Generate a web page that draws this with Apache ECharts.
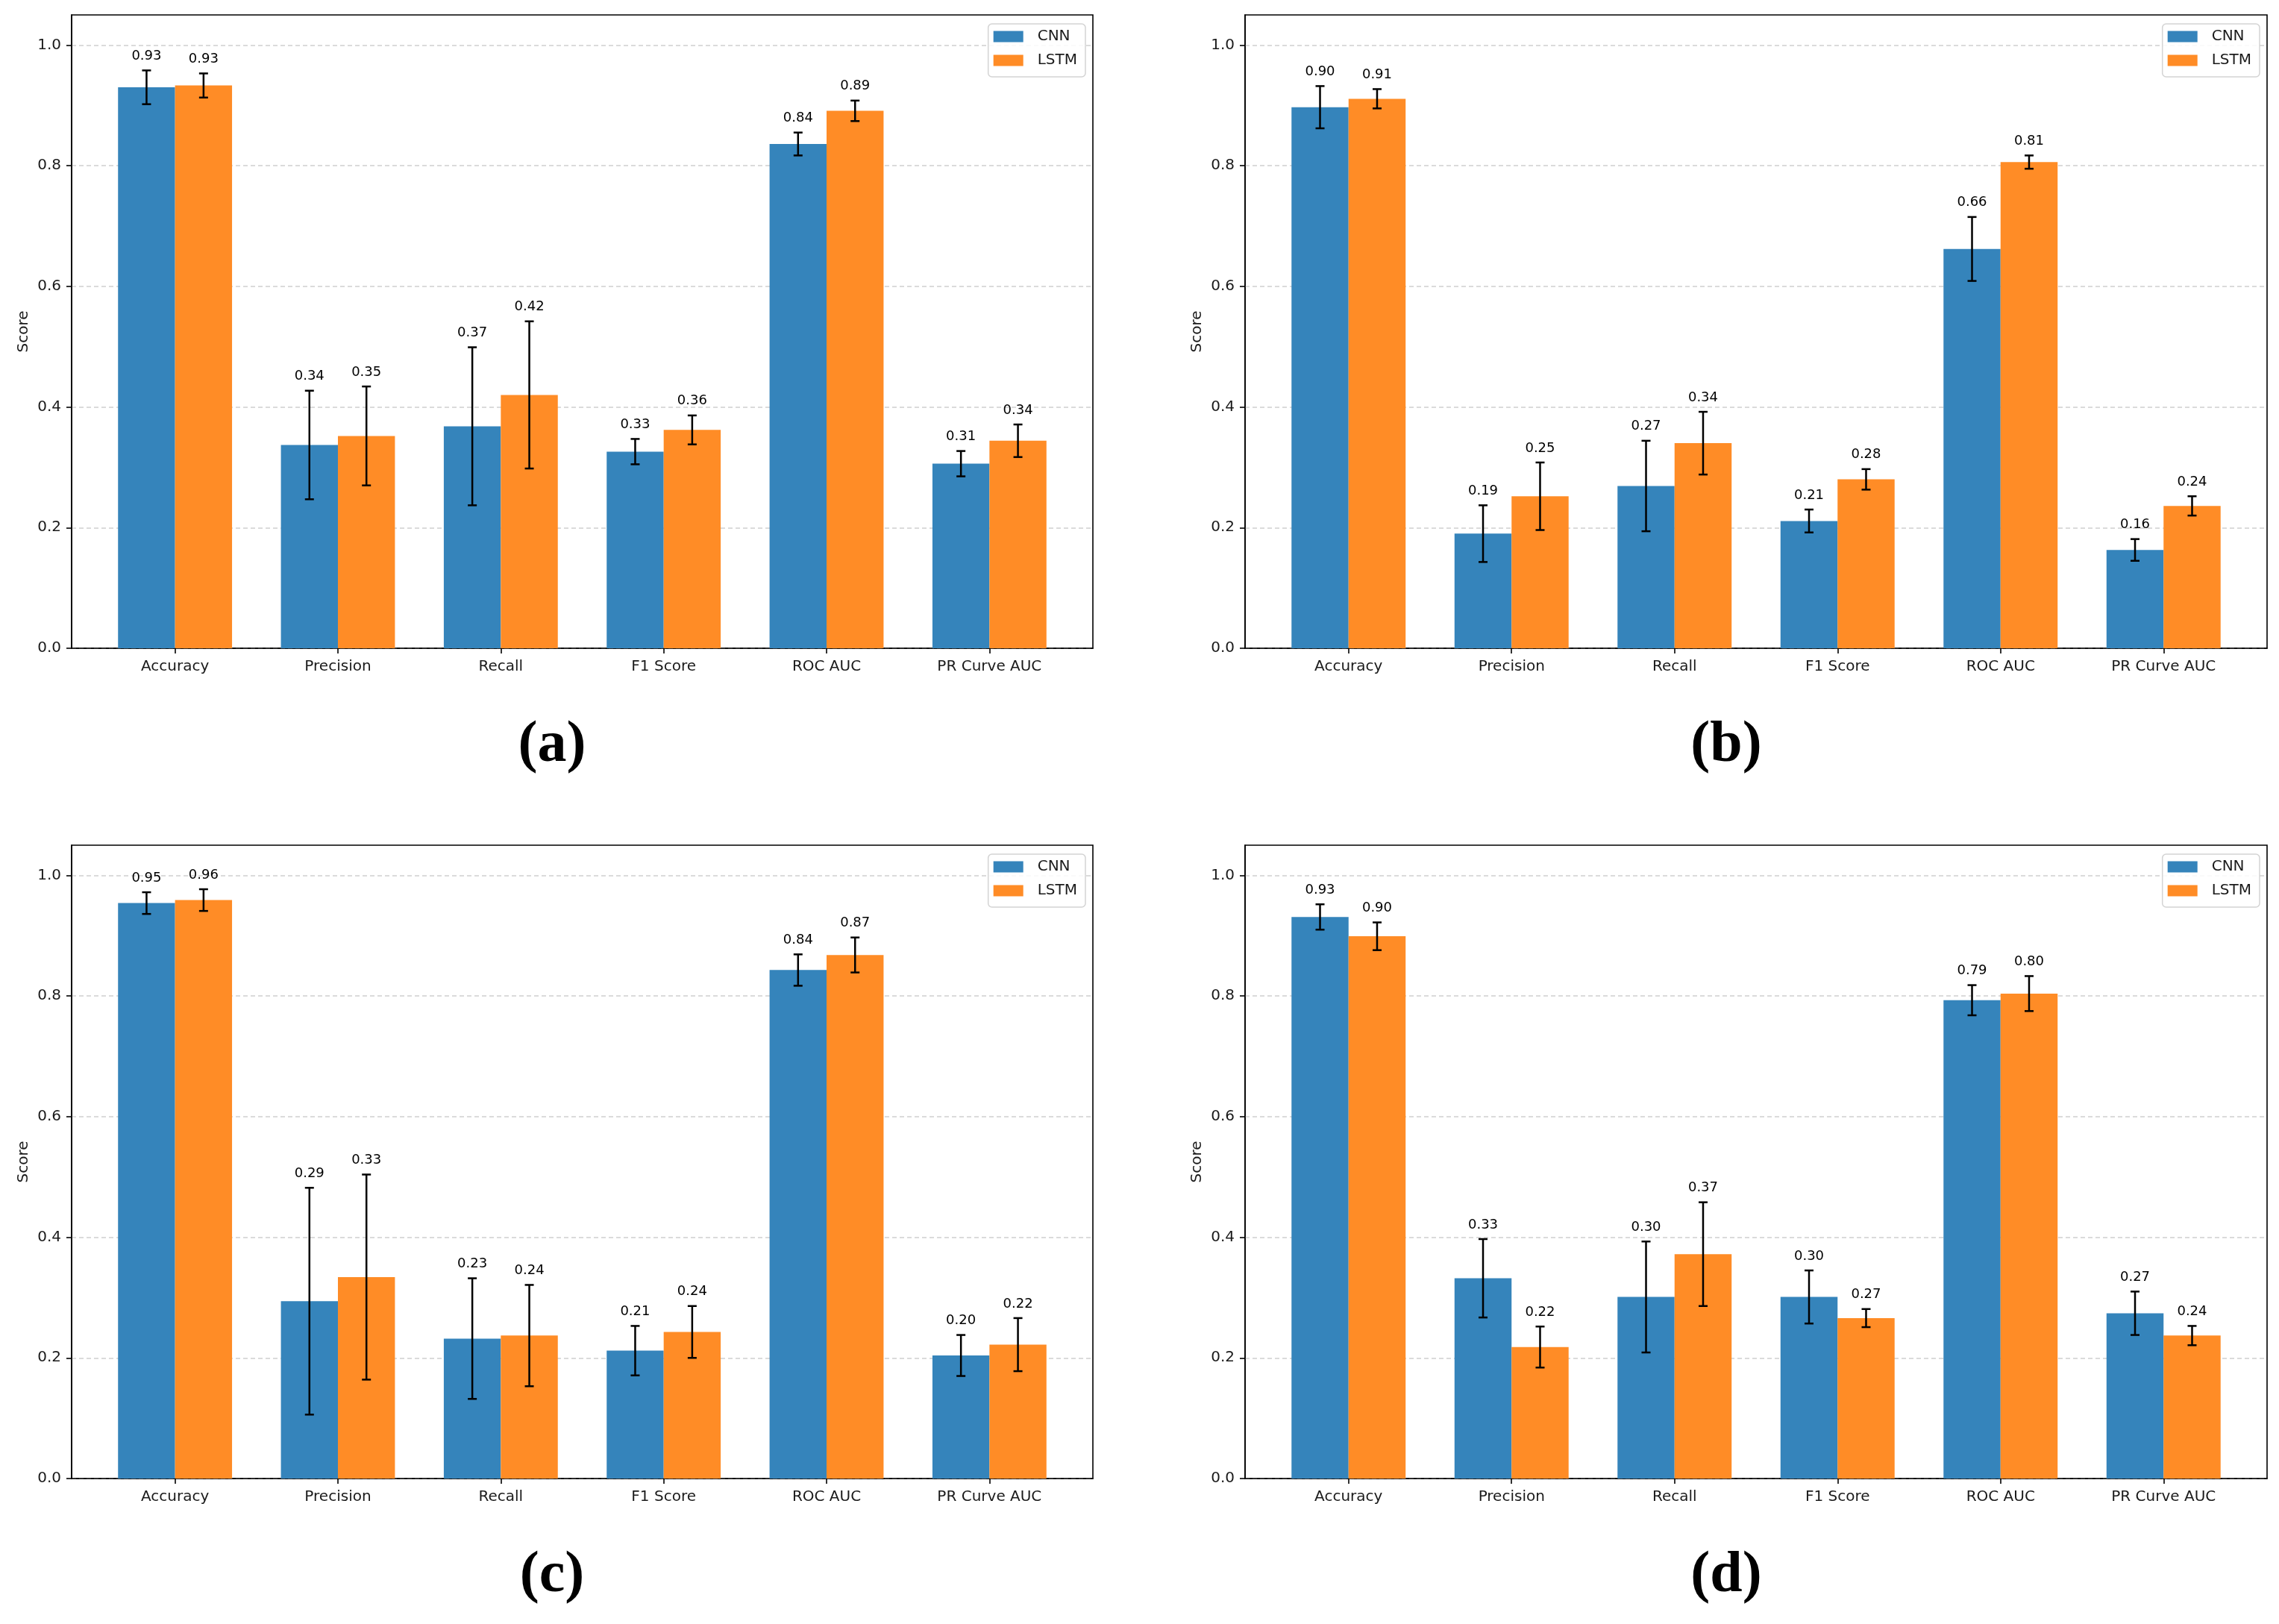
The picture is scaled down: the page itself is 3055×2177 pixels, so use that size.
<!DOCTYPE html>
<html>
<head>
<meta charset="utf-8">
<script src="https://cdn.jsdelivr.net/npm/echarts@6/dist/echarts.min.js"></script>
<style>
html,body{margin:0;padding:0;background:#fff;}
#chart{width:3055px;height:2177px;}
</style>
</head>
<body>
<div id="chart"></div>
<script>
const categories = ['Accuracy', 'Precision', 'Recall', 'F1 Score', 'ROC AUC', 'PR Curve AUC'];
const seriesNames = ['CNN', 'LSTM'];
const yTicks = [0, 0.2, 0.4, 0.6, 0.8, 1.0];
const captions = ['(a)', '(b)', '(c)', '(d)'];

// (a)
const cnnA = [0.930, 0.337, 0.368, 0.326, 0.836, 0.306];
const cnnErrA = [0.028, 0.090, 0.131, 0.021, 0.019, 0.021];
const lstmA = [0.933, 0.352, 0.420, 0.362, 0.891, 0.344];
const lstmErrA = [0.020, 0.082, 0.122, 0.024, 0.017, 0.027];
// (b)
const cnnB = [0.897, 0.190, 0.269, 0.211, 0.662, 0.163];
const cnnErrB = [0.035, 0.047, 0.075, 0.019, 0.053, 0.018];
const lstmB = [0.911, 0.252, 0.340, 0.280, 0.806, 0.236];
const lstmErrB = [0.016, 0.056, 0.052, 0.017, 0.011, 0.016];
// (c)
const cnnC = [0.954, 0.294, 0.232, 0.212, 0.843, 0.204];
const cnnErrC = [0.018, 0.188, 0.100, 0.041, 0.026, 0.034];
const lstmC = [0.959, 0.334, 0.237, 0.243, 0.868, 0.222];
const lstmErrC = [0.018, 0.170, 0.084, 0.043, 0.029, 0.044];
// (d)
const cnnD = [0.931, 0.332, 0.301, 0.301, 0.793, 0.274];
const cnnErrD = [0.021, 0.065, 0.092, 0.044, 0.025, 0.036];
const lstmD = [0.899, 0.218, 0.372, 0.266, 0.804, 0.237];
const lstmErrD = [0.023, 0.034, 0.086, 0.015, 0.029, 0.016];

const panelData = [
  [cnnA, cnnErrA, lstmA, lstmErrA],
  [cnnB, cnnErrB, lstmB, lstmErrB],
  [cnnC, cnnErrC, lstmC, lstmErrC],
  [cnnD, cnnErrD, lstmD, lstmErrD]
];

// layout (pixels)
const W = 3055, H = 2177;
const panelBoxes = [
  {left: 96, top: 20, width: 1369, height: 849},
  {left: 1669, top: 20, width: 1370, height: 849},
  {left: 96, top: 1133, width: 1369, height: 849},
  {left: 1669, top: 1133, width: 1370, height: 849}
];
const captionPos = [[740, 1000], [2314, 1000], [740, 2113], [2314, 2113]];
const COLORS = ['#3584bb', '#ff8c26'];
const BW = 0.35;
const OFFSETS = [-BW / 2, BW / 2];
const FONT = 'DejaVu Sans';

function barRender(offset) {
  return function (params, api) {
    const c = api.value(0) + offset;
    const v = api.value(1);
    const p0 = api.coord([c - BW / 2, v]);
    const p1 = api.coord([c + BW / 2, 0]);
    return {
      type: 'rect',
      shape: {x: p0[0], y: p0[1], width: p1[0] - p0[0], height: p1[1] - p0[1]},
      style: {fill: api.visual('color')}
    };
  };
}
function errRender(offset) {
  return function (params, api) {
    const c = api.value(0) + offset;
    const v = api.value(1);
    const e = api.value(2);
    const top = api.coord([c, v + e]);
    const bot = api.coord([c, v - e]);
    const lab = api.coord([c, v + e + 0.01]);
    const cap = 6;
    const ls = {stroke: '#000', lineWidth: 2.5};
    return {
      type: 'group',
      children: [
        {type: 'line', shape: {x1: top[0], y1: top[1], x2: bot[0], y2: bot[1]}, style: ls},
        {type: 'line', shape: {x1: top[0] - cap, y1: top[1], x2: top[0] + cap, y2: top[1]}, style: ls},
        {type: 'line', shape: {x1: bot[0] - cap, y1: bot[1], x2: bot[0] + cap, y2: bot[1]}, style: ls},
        {type: 'text', style: {text: v.toFixed(2), x: lab[0], y: lab[1] - 2, align: 'center', verticalAlign: 'bottom',
          fontSize: 18, fontFamily: FONT, fill: '#000'}}
      ]
    };
  };
}

const grids = [], xAxes = [], yAxes = [], series = [], legends = [], graphics = [];
panelBoxes.forEach((b, p) => {
  grids.push({left: b.left, top: b.top, width: b.width, height: b.height, show: true,
    borderColor: '#000', borderWidth: 1.6, backgroundColor: 'transparent'});
  xAxes.push({
    type: 'value', gridIndex: p, min: -0.635, max: 5.635,
    axisLine: {show: true, onZero: false, lineStyle: {color: '#000', width: 1.6}},
    axisTick: {show: true, customValues: [0, 1, 2, 3, 4, 5], length: 7, lineStyle: {color: '#000', width: 1.6}},
    axisLabel: {show: true, customValues: [0, 1, 2, 3, 4, 5], formatter: v => categories[Math.round(v)] || '',
      fontSize: 20, fontFamily: FONT, color: '#1a1a1a', margin: 15},
    splitLine: {show: false}
  });
  yAxes.push({
    type: 'value', gridIndex: p, min: 0, max: 1.05, interval: 0.2,
    name: 'Score', nameLocation: 'middle', nameGap: 54,
    nameTextStyle: {fontSize: 20, fontFamily: FONT, color: '#1a1a1a'},
    axisLine: {show: true, onZero: false, lineStyle: {color: '#000', width: 1.6}},
    axisTick: {show: true, customValues: yTicks, length: 7, lineStyle: {color: '#000', width: 1.6}},
    axisLabel: {show: true, customValues: yTicks, formatter: v => v.toFixed(1),
      fontSize: 20, fontFamily: FONT, color: '#1a1a1a', margin: 14},
    splitLine: {show: true, lineStyle: {type: [6, 4], color: '#d0d0d0', width: 1.6}}
  });
  const d = panelData[p];
  [0, 1].forEach(s => {
    const vals = d[s * 2];
    series.push({
      type: 'custom', name: seriesNames[s], xAxisIndex: p, yAxisIndex: p,
      itemStyle: {color: COLORS[s]},
      renderItem: barRender(OFFSETS[s]),
      encode: {x: 0, y: 1},
      data: categories.map((c, i) => [i, vals[i]]),
      z: 2
    });
  });
  [0, 1].forEach(s => {
    const vals = d[s * 2], errs = d[s * 2 + 1];
    series.push({
      type: 'custom', name: seriesNames[s] + ' error', xAxisIndex: p, yAxisIndex: p,
      renderItem: errRender(OFFSETS[s]),
      encode: {x: 0, y: 1},
      data: categories.map((c, i) => [i, vals[i], errs[i]]),
      z: 3
    });
  });
  legends.push({
    data: seriesNames, orient: 'vertical', icon: 'rect',
    right: W - (b.left + b.width - 10), top: b.top + 12,
    itemWidth: 40, itemHeight: 15, itemGap: 12,
    padding: [7, 11, 12, 7],
    borderColor: '#d3d3d3', borderWidth: 1.5, borderRadius: 5,
    backgroundColor: 'rgba(255,255,255,0.85)',
    textStyle: {fontSize: 20, fontFamily: FONT, color: '#1a1a1a', padding: [0, 0, 0, 14]},
    selectedMode: false
  });
  graphics.push({
    type: 'text', x: captionPos[p][0], y: captionPos[p][1],
    style: {text: captions[p], align: 'center', verticalAlign: 'middle',
      fontSize: 78, fontWeight: 'bold', fontFamily: 'Liberation Serif', fill: '#000'}
  });
});

const chart = echarts.init(document.getElementById('chart'), null, {renderer: 'canvas'});
chart.setOption({
  animation: false,
  backgroundColor: '#fff',
  grid: grids, xAxis: xAxes, yAxis: yAxes, series: series, legend: legends, graphic: graphics
});
</script>
</body>
</html>
